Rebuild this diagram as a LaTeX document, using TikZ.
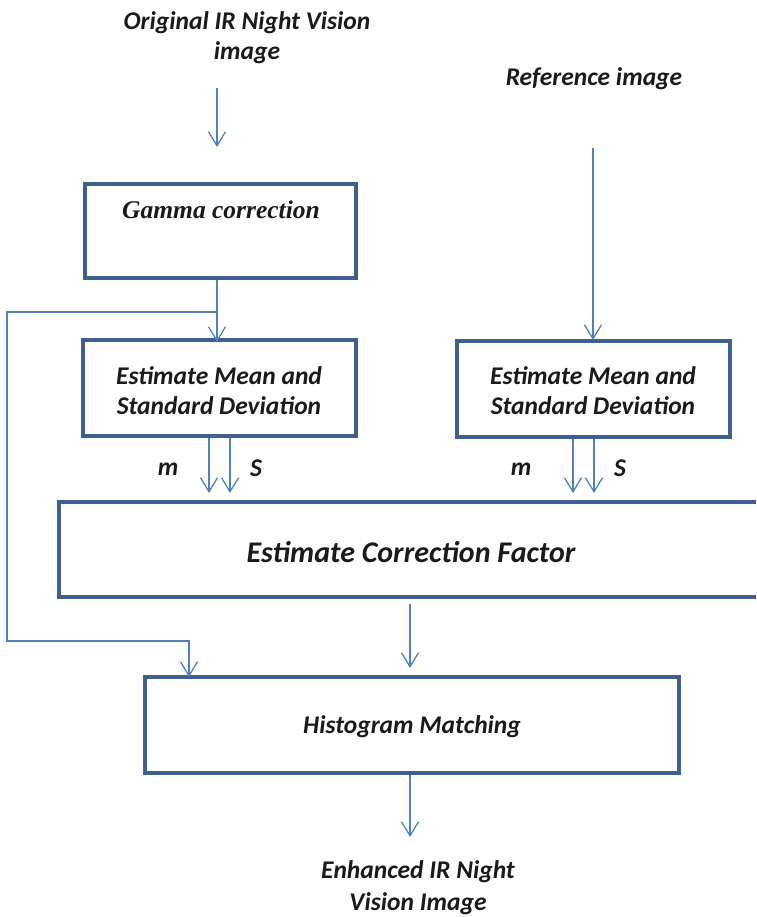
\documentclass[tikz,border=0pt]{standalone}
\usepackage{fontspec}
\setmainfont{Liberation Serif}
\setsansfont{Carlito}
\usetikzlibrary{arrows.meta,calc}
\definecolor{boxc}{HTML}{3E5F8F}
\definecolor{arrc}{HTML}{4F81BD}
\definecolor{txt}{HTML}{1A1A1A}
\begin{document}
\begin{tikzpicture}[x=1pt,y=-1pt,
  box/.style={draw=boxc, line width=4pt, inner sep=0pt},
  lbl/.style={text=txt, font=\sffamily\bfseries\itshape\fontsize{25.5}{30}\selectfont, align=center, inner sep=0pt},
  biglbl/.style={text=txt, font=\sffamily\bfseries\itshape\fontsize{30}{34}\selectfont, align=center, inner sep=0pt},
  serlbl/.style={text=txt, font=\rmfamily\bfseries\itshape\fontsize{25.5}{30}\selectfont, inner sep=0pt},
  arr/.style={draw=arrc, line width=1.3pt, -{Straight Barb[length=14pt,width=17pt,line width=1.3pt]}},
  ln/.style={draw=arrc, line width=1.3pt}]
\useasboundingbox (0,0) rectangle (756,917);
\clip (0,0) rectangle (756,917);

% boxes
\node[box, minimum width=271pt, minimum height=94pt] (gamma) at (220.5,231) {};
\node[box, minimum width=273pt, minimum height=96pt] (est1) at (219.5,388) {};
\node[box, minimum width=273pt, minimum height=96pt] (est2) at (593.5,389) {};
\node[box, minimum width=723pt, minimum height=95pt] (corr) at (420.5,549.5) {};
\node[box, minimum width=534pt, minimum height=96pt] (hist) at (412,725) {};

% texts
\node[lbl] (t1) at (247,38) {Original IR Night Vision\\image};
\node[lbl] (t2) at (594,79) {Reference image};
\node[serlbl] (gt) at (221,210) {Gamma correction};
\node[lbl] (e1t) at (219,391) {Estimate Mean and\\Standard Deviation};
\node[lbl] (e2t) at (593,391) {Estimate Mean and\\Standard Deviation};
\node[biglbl] (ct) at (411,552) {Estimate Correction Factor};
\node[lbl] (ht) at (412,727) {Histogram Matching};
\node[lbl] (ot) at (418,888) {Enhanced IR Night\\[2pt]Vision Image};
\node[lbl] (m1) at (168,469) {m};
\node[lbl] (s1) at (256,468) {S};
\node[lbl] (m2) at (521,469) {m};
\node[lbl] (s2) at (620,468) {S};

% coordinates
\coordinate (c1) at (217,88);
\coordinate (c2) at (217,147);
\coordinate (cx) at (217,0);
\coordinate (br) at (217,312);
\coordinate (r1) at (593,148);
\coordinate (lp) at (189,0);
\coordinate (ma) at (209,493);
\coordinate (sa) at (230,493);
\coordinate (mb) at (573,493);
\coordinate (sb) at (594,493);
\coordinate (d1) at (410,604);
\coordinate (d2) at (410,668);
\coordinate (o2) at (410,837);

% connectors
\draw[arr] (c1) -- (c2);
\draw[arr] (gamma.south -| cx) -- ([yshift=-4pt]est1.north -| cx);
\draw[arr] (br) -- (7,312) -- (7,641) -- (189,641) -- ([yshift=-2pt]hist.north -| lp);
\draw[arr] (r1) -- ([yshift=-1pt]est2.north -| r1);
\draw[arr] (est1.south -| ma) -- (ma);
\draw[arr] (est1.south -| sa) -- (sa);
\draw[arr] (est2.south -| mb) -- (mb);
\draw[arr] (est2.south -| sb) -- (sb);
\draw[arr] (d1) -- (d2);
\draw[arr] (hist.south -| o2) -- (o2);
\end{tikzpicture}
\end{document}
